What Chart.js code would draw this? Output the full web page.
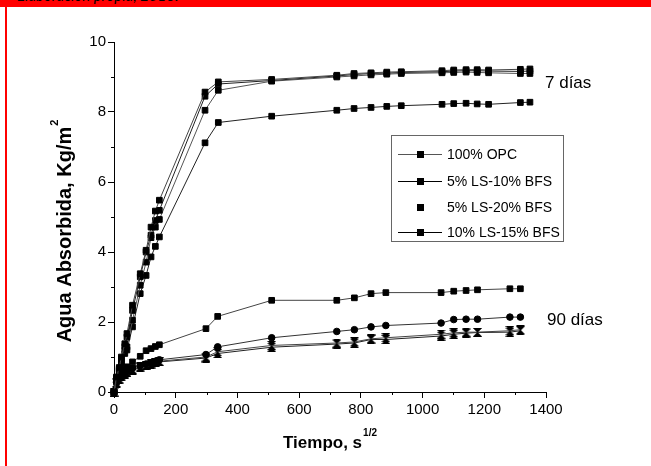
<!DOCTYPE html>
<html>
<head>
<meta charset="utf-8">
<title>Agua absorbida</title>
<script src="https://cdn.jsdelivr.net/npm/chart.js"></script>
<style>
  body { margin: 0; background: #fff; }
  #wrap { position: relative; width: 651px; height: 466px; overflow: hidden; background: #fff; }
  #bar { position: absolute; left: 0; top: 0; width: 651px; height: 7px; background: #f00; overflow: hidden; z-index: 2; }
  #bar span { position: absolute; left: 17px; top: -12px; font: italic 15px Lato, sans-serif; line-height: 15px; white-space: nowrap; color: #000; }
  #edge { position: absolute; left: 5px; top: 0; width: 2px; height: 466px; background: #f00; z-index: 2; }
  canvas { position: absolute; left: 0; top: 0; }
</style>
</head>
<body>
<div id="wrap">
  <div id="bar"><span>Elaboración propia, 2018.</span></div>
  <div id="edge"></div>
  <canvas id="waterChart" width="651" height="466"></canvas>
</div>

<script>
// time axis, s^1/2
const t7  = [0, 8, 17, 24, 35, 42, 60, 85, 104, 120, 134, 147, 295, 338, 511, 722, 778, 833, 884, 931, 1063, 1101, 1141, 1177, 1214, 1317, 1348];
const t90 = [0, 8, 17, 24, 35, 42, 60, 85, 104, 120, 134, 147, 298, 336, 511, 722, 779, 833, 881, 1060, 1101, 1141, 1178, 1283, 1317];

const mixes = ['100% OPC', '5% LS-10% BFS', '5% LS-20% BFS', '10% LS-15% BFS'];
const ages = ['7 días', '90 días'];

// 7 days, kg/m2
const opc7  = [0, 0.43, 0.70, 1.00, 1.38, 1.67, 2.48, 3.38, 4.05, 4.71, 5.17, 5.48, 8.57, 8.86, 8.93, 9.05, 9.10, 9.12, 9.14, 9.15, 9.18, 9.20, 9.21, 9.21, 9.20, 9.22, 9.23];
const ls10_7 = [0, 0.40, 0.66, 0.95, 1.30, 1.57, 2.33, 3.29, 4.00, 4.48, 4.90, 5.19, 8.45, 8.80, 8.90, 9.03, 9.07, 9.10, 9.11, 9.13, 9.15, 9.17, 9.18, 9.18, 9.17, 9.16, 9.17];
const ls20_7 = [0, 0.36, 0.63, 0.88, 1.20, 1.29, 2.05, 3.05, 3.71, 4.41, 4.71, 4.93, 8.05, 8.62, 8.88, 9.00, 9.03, 9.06, 9.08, 9.10, 9.12, 9.13, 9.14, 9.13, 9.12, 9.10, 9.10];
const ls15_7 = [0, 0.30, 0.60, 0.82, 1.10, 1.20, 1.86, 2.81, 3.33, 3.86, 4.16, 4.43, 7.12, 7.70, 7.88, 8.05, 8.10, 8.13, 8.16, 8.18, 8.22, 8.24, 8.25, 8.23, 8.22, 8.27, 8.28];

// 90 days, kg/m2
const opc90  = [0, 0.30, 0.45, 0.55, 0.65, 0.72, 0.86, 1.02, 1.18, 1.24, 1.30, 1.35, 1.81, 2.16, 2.62, 2.62, 2.69, 2.81, 2.84, 2.84, 2.88, 2.90, 2.92, 2.95, 2.95];
const ls10_90 = [0, 0.28, 0.40, 0.48, 0.55, 0.60, 0.68, 0.75, 0.80, 0.84, 0.88, 0.92, 1.07, 1.29, 1.55, 1.73, 1.78, 1.86, 1.90, 1.97, 2.07, 2.08, 2.08, 2.14, 2.14];
const ls20_90 = [0, 0.27, 0.38, 0.46, 0.52, 0.57, 0.65, 0.72, 0.77, 0.81, 0.85, 0.88, 1.00, 1.15, 1.33, 1.40, 1.43, 1.52, 1.55, 1.65, 1.69, 1.71, 1.71, 1.75, 1.78];
const ls15_90 = [0, 0.25, 0.36, 0.44, 0.50, 0.55, 0.62, 0.70, 0.75, 0.79, 0.83, 0.86, 0.97, 1.10, 1.28, 1.37, 1.40, 1.50, 1.50, 1.60, 1.65, 1.68, 1.70, 1.71, 1.75];

function hourglass(s) {
    const c = document.createElement('canvas');
    c.width = s; c.height = s;
    const g = c.getContext('2d');
    g.fillStyle = '#000';
    g.beginPath(); g.moveTo(0, 0); g.lineTo(s, 0); g.lineTo(s / 2, s / 2); g.closePath(); g.fill();
    g.beginPath(); g.moveTo(0, s); g.lineTo(s, s); g.lineTo(s / 2, s / 2); g.closePath(); g.fill();
    return c;
}
const glass = hourglass(9);

function mk(label, t, vals, style, r, line) {
    return {
        label: label,
        data: t.map((x, i) => ({ x: x, y: vals[i] })),
        borderColor: line,
        borderWidth: 1,
        backgroundColor: '#000',
        pointBackgroundColor: '#000',
        pointBorderColor: '#000',
        pointBorderWidth: 1,
        pointStyle: style,
        pointRadius: r,
        tension: 0,
        clip: false
    };
}

const datasets = [
    mk(mixes[0], t7, opc7, 'rect', 4, '#444'),
    mk(mixes[1], t7, ls10_7, 'rect', 4, '#222'),
    mk(mixes[2], t7, ls20_7, 'rect', 4, '#555'),
    mk(mixes[3], t7, ls15_7, 'rect', 4, '#222'),
    mk(mixes[0], t90, opc90, 'rect', 4, '#444'),
    mk(mixes[1], t90, ls10_90, 'circle', 3.3, '#333'),
    mk(mixes[2], t90, ls20_90, glass, 4, '#444'),
    mk(mixes[3], t90, ls15_90, glass, 4, '#222')
];

const FONT = '"Liberation Sans", Arial, sans-serif';

const extras = {
    id: 'extras',
    afterDraw(chart) {
        const { ctx, chartArea: a, scales: { x, y } } = chart;
        ctx.save();
        // minor ticks
        ctx.strokeStyle = '#000';
        ctx.lineWidth = 1;
        ctx.beginPath();
        for (let v = 100; v < 1400; v += 200) {
            const px = Math.round(x.getPixelForValue(v)) + 0.5;
            ctx.moveTo(px, a.bottom); ctx.lineTo(px, a.bottom + 3);
        }
        for (let v = 1; v < 10; v += 2) {
            const py = Math.round(y.getPixelForValue(v)) + 0.5;
            ctx.moveTo(a.left, py); ctx.lineTo(a.left - 3, py);
        }
        ctx.stroke();

        // age notes
        ctx.fillStyle = '#000';
        ctx.font = '17px ' + FONT;
        ctx.textBaseline = 'middle';
        ctx.textAlign = 'left';
        ctx.fillText(ages[0], a.right - 1, y.getPixelForValue(8.82));
        ctx.fillText(ages[1], a.right + 1, y.getPixelForValue(2.05));

        // legend box
        ctx.strokeStyle = '#666';
        ctx.strokeRect(391.5, 135.5, 172, 106);
        const rows = [154, 181, 207, 232];
        const lines = ['#555', '#000', null, '#000'];
        ctx.font = '14px ' + FONT;
        mixes.forEach((m, i) => {
            const ry = rows[i];
            if (lines[i]) {
                ctx.strokeStyle = lines[i];
                ctx.beginPath();
                ctx.moveTo(398, ry + 0.5); ctx.lineTo(442, ry + 0.5);
                ctx.stroke();
            }
            ctx.fillStyle = '#000';
            ctx.fillRect(417, ry - 3, 7, 7);
            ctx.fillText(m, 447, ry + 1);
        });

        // x title with superscript
        ctx.textBaseline = 'alphabetic';
        ctx.font = 'bold 17px ' + FONT;
        const main = 'Tiempo, s';
        const w1 = ctx.measureText(main).width;
        ctx.font = 'bold 10px ' + FONT;
        const w2 = ctx.measureText('1/2').width;
        const cx = (a.left + a.right) / 2;
        let sx = cx - (w1 + w2 + 1) / 2;
        ctx.font = 'bold 17px ' + FONT;
        ctx.fillText(main, sx, 448);
        ctx.font = 'bold 10px ' + FONT;
        ctx.fillText('1/2', sx + w1 + 1, 436);

        // y title with superscript
        ctx.translate(64, 231);
        ctx.rotate(-Math.PI / 2);
        ctx.font = 'bold 20px ' + FONT;
        const ym = 'Agua Absorbida, Kg/m';
        const yw1 = ctx.measureText(ym).width;
        ctx.font = 'bold 11px ' + FONT;
        const yw2 = ctx.measureText('2').width;
        const ys = -(yw1 + yw2 + 1) / 2;
        ctx.font = 'bold 20px ' + FONT;
        ctx.fillText(ym, ys, 7);
        ctx.font = 'bold 11px ' + FONT;
        ctx.fillText('2', ys + yw1 + 1, -6);
        ctx.restore();
    }
};

new Chart(document.getElementById('waterChart').getContext('2d'), {
    type: 'line',
    data: { datasets: datasets },
    options: {
        responsive: false,
        animation: false,
        devicePixelRatio: 1,
        layout: { padding: { left: 0, right: 105, top: 42, bottom: 0 } },
        plugins: { legend: { display: false }, tooltip: { enabled: false } },
        scales: {
            x: {
                type: 'linear',
                min: 0, max: 1400,
                afterFit: s => { s.height = 74; },
                ticks: { stepSize: 200, color: '#000', padding: 3, maxRotation: 0, font: { family: FONT, size: 15 }, callback: v => String(v) },
                grid: { display: true, drawOnChartArea: false, drawTicks: true, tickLength: 6, color: '#000' },
                border: { display: true, color: '#000', width: 1 }
            },
            y: {
                type: 'linear',
                min: 0, max: 10,
                afterFit: s => { s.width = 114; },
                ticks: { stepSize: 2, color: '#000', padding: 2, font: { family: FONT, size: 15 }, callback: v => String(v) },
                grid: { display: true, drawOnChartArea: false, drawTicks: true, tickLength: 6, color: '#000' },
                border: { display: true, color: '#000', width: 1 }
            }
        }
    },
    plugins: [extras]
});
</script>
</body>
</html>
